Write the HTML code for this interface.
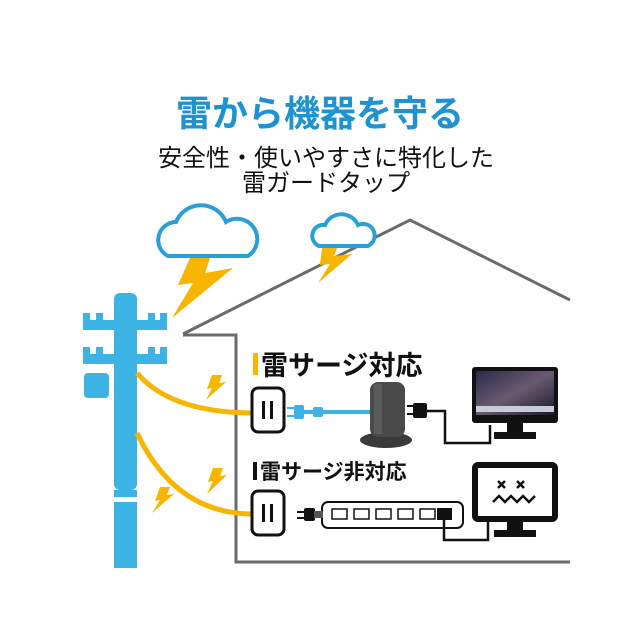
<!DOCTYPE html>
<html><head><meta charset="utf-8"><style>
body{margin:0;background:#fff;}
svg{display:block;}
text{font-family:"Liberation Sans","Noto Sans CJK JP",sans-serif;}
</style></head><body>
<svg width="640" height="640" viewBox="0 0 640 640" xmlns="http://www.w3.org/2000/svg">
<rect width="640" height="640" fill="#fff"/>
<text x="320" y="126" text-anchor="middle" font-size="36" font-weight="bold" fill="#1f93d2">雷から機器を守る</text>
<text x="326" y="166" text-anchor="middle" font-size="24" fill="#111">安全性・使いやすさに特化した</text>
<text x="326" y="191" text-anchor="middle" font-size="24" fill="#111">雷ガードタップ</text>

<!-- house -->
<polyline points="183,334 410,220 570,300" fill="none" stroke="#6b6b6b" stroke-width="3"/>
<polyline points="183,335 236,335 236,562 570,562" fill="none" stroke="#6b6b6b" stroke-width="3"/>

<!-- clouds -->
<g fill="#fff" stroke="#2a9fd6" stroke-width="4">
<path d="M168,256 a18,18 0 0 1 8,-34 a27,27 0 0 1 50,0 a18,18 0 0 1 22,34 z"/>
<path d="M319,246 a11,11 0 0 1 6,-21 a18,18 0 0 1 33,0 a11,11 0 0 1 10,21 z"/>
</g>
<!-- bolts -->
<g fill="#f7b500">
<polygon points="190,258 210,258 205,273 233,268 172,318 193,283 178,285"/>
<polygon points="322,248 337,248 334,256 352,254 318,283 330,264 320,265"/>
<polygon points="212,375 222,375 219,383 226,382 206,400 212,388 207,389"/>
<polygon points="213,468 223,468 220,476 227,475 207,494 213,481 208,482"/>
<polygon points="160,487 170,487 167,495 174,494 152,513 160,500 155,501"/>
</g>

<!-- pole -->
<g fill="#3bb4e5">
<rect x="114" y="293" width="23" height="197" rx="6"/>
<rect x="114" y="502" width="23" height="66"/>
<rect x="114" y="490" width="23" height="7"/>
<path d="M83,320 h84 v10 h-84z M83,313 h7 v8 h-7z M96,313 h7 v8 h-7z M148,313 h7 v8 h-7z M160,313 h7 v8 h-7z"/>
<path d="M83,354 h84 v10 h-84z M83,347 h7 v8 h-7z M96,347 h7 v8 h-7z M148,347 h7 v8 h-7z M160,347 h7 v8 h-7z"/>
<rect x="84" y="373" width="25" height="25" rx="4"/>
</g>
<!-- yellow wires -->
<g fill="none" stroke="#f7b500" stroke-width="5">
<path d="M137,373 Q170,412 251,413"/>
<path d="M137,433 Q175,513 251,514"/>
</g>

<!-- labels -->
<rect x="253" y="353" width="5" height="22" fill="#f7b500"/>
<text x="261" y="375" font-size="27" font-weight="bold" fill="#111">雷サージ対応</text>
<rect x="253" y="462" width="4" height="18" fill="#111"/>
<text x="260" y="479" font-size="21" font-weight="bold" fill="#111">雷サージ非対応</text>

<!-- outlets -->
<g fill="#fff" stroke="#111" stroke-width="3">
<rect x="252" y="388" width="32" height="44" rx="6"/>
<rect x="252" y="491" width="32" height="44" rx="6"/>
</g>
<g fill="#111">
<rect x="262" y="401" width="3" height="18"/><rect x="270" y="401" width="3" height="18"/>
<rect x="262" y="504" width="3" height="18"/><rect x="270" y="504" width="3" height="18"/>
</g>

<!-- blue cable & plug -->
<rect x="300" y="410" width="72" height="4" fill="#3bb4e5"/>
<rect x="294" y="405" width="10" height="14" rx="2" fill="#3bb4e5"/>
<rect x="287" y="407" width="8" height="2" fill="#3bb4e5"/><rect x="287" y="415" width="8" height="2" fill="#3bb4e5"/>
<rect x="313" y="407" width="10" height="10" rx="2" fill="#3bb4e5"/>

<!-- tower -->
<ellipse cx="386" cy="440" rx="26" ry="8" fill="#3a3a3a"/>
<rect x="370" y="382" width="35" height="55" rx="8" fill="#4a4a4a"/>
<rect x="374" y="384" width="8" height="50" fill="#5c5c5c"/>
<rect x="407" y="405" width="6" height="2" fill="#111"/><rect x="407" y="413" width="6" height="2" fill="#111"/>
<rect x="413" y="403" width="14" height="15" rx="2" fill="#111"/>
<polyline points="427,411 445,411 445,443 490,443 490,425" fill="none" stroke="#111" stroke-width="2.5"/>

<!-- top monitor -->
<rect x="472" y="367" width="86" height="56" rx="3" fill="#111"/>
<defs><linearGradient id="g" x1="0" y1="0" x2="1" y2="1"><stop offset="0" stop-color="#2a2a4a"/><stop offset="0.5" stop-color="#6a5a70"/><stop offset="1" stop-color="#1a1a2a"/></linearGradient></defs>
<rect x="476" y="371" width="78" height="44" fill="url(#g)"/>
<rect x="476" y="406" width="78" height="6" fill="#c8ccd6"/>
<rect x="507" y="423" width="16" height="10" fill="#111"/>
<rect x="494" y="432" width="42" height="7" fill="#111"/>

<!-- power strip -->
<rect x="322" y="502" width="141" height="26" rx="6" fill="#fff" stroke="#111" stroke-width="2"/>
<g fill="#fff" stroke="#111" stroke-width="1.5">
<rect x="332" y="509" width="15" height="10"/><rect x="354" y="509" width="15" height="10"/><rect x="376" y="509" width="15" height="10"/><rect x="398" y="509" width="15" height="10"/><rect x="420" y="509" width="15" height="10"/>
</g>
<rect x="437" y="508" width="15" height="12" fill="#111"/>
<rect x="297" y="511" width="8" height="2" fill="#111"/><rect x="297" y="517" width="8" height="2" fill="#111"/>
<rect x="304" y="508" width="11" height="13" rx="2" fill="#111"/>
<rect x="314" y="511" width="9" height="7" fill="#555"/>
<polyline points="444,520 444,540 488,540 488,522" fill="none" stroke="#111" stroke-width="2.5"/>

<!-- broken monitor -->
<rect x="475" y="465" width="80" height="54" rx="3" fill="#fff" stroke="#111" stroke-width="6"/>
<g stroke="#111" stroke-width="2.5" fill="none">
<path d="M498,481 l7,7 M505,481 l-7,7 M517,481 l7,7 M524,481 l-7,7"/>
<polyline points="493,502 499,496 505,502 511,496 517,502 523,496 529,502 535,496"/>
</g>
<rect x="507" y="521" width="16" height="10" fill="#111"/>
<rect x="494" y="530" width="42" height="7" fill="#111"/>
</svg>
</body></html>
